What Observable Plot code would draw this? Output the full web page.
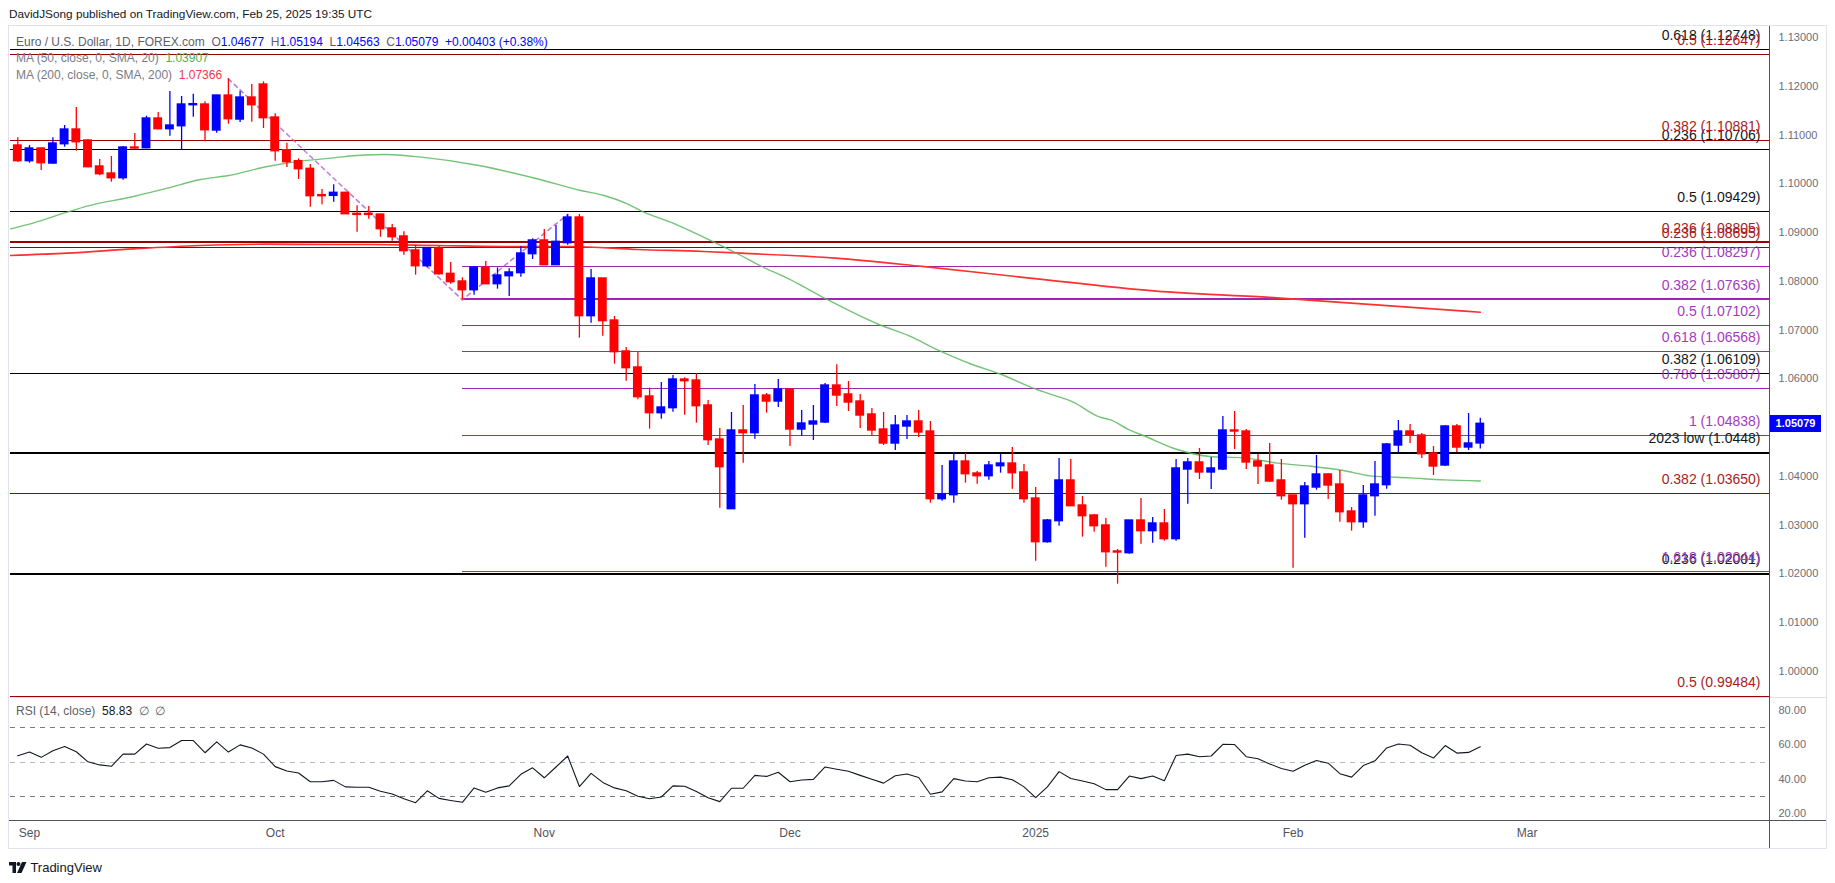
<!DOCTYPE html>
<html><head><meta charset="utf-8">
<script src="https://cdn.jsdelivr.net/npm/d3@7"></script>
<script src="https://cdn.jsdelivr.net/npm/@observablehq/plot@0.6"></script>
<style>
body{margin:0;background:#fff;font-family:"Liberation Sans",Arial,sans-serif;}
#wrap{position:relative;width:1835px;height:883px;overflow:hidden;background:#fff;}
.abs{position:absolute;white-space:pre;}
</style></head><body><div id="wrap"></div>
<script>
// ---------- DATA ----------
const opens = [1.10785,1.10464,1.10724,1.10416,1.10812,1.11113,1.10888,1.10355,1.10211,1.10115,
1.10744,1.10730,1.11339,1.11120,1.11181,1.11612,1.11626,1.11093,1.11810,1.11318,
1.11769,1.12036,1.11359,1.10689,1.10464,1.10307,1.09767,1.09753,1.09815,1.09384,
1.09384,1.09370,1.09084,1.08920,1.08633,1.08311,1.08681,1.08154,1.07997,1.07819,
1.08284,1.07942,1.08106,1.08168,1.08558,1.08838,1.08332,1.08783,1.09309,1.07286,
1.08059,1.07197,1.06562,1.06234,1.05639,1.05297,1.05400,1.05987,1.05967,1.05455,
1.04757,1.03329,1.04942,1.04887,1.05659,1.05536,1.05782,1.04962,1.05065,1.05106,
1.05864,1.05680,1.05536,1.05270,1.04962,1.04675,1.05024,1.05126,1.04921,1.03534,
1.03616,1.04306,1.04060,1.04005,1.04210,1.04265,1.04081,1.03547,1.02652,1.03083,
1.03917,1.03404,1.03199,1.02994,1.02461,1.02426,1.03096,1.02878,1.03035,1.02714,
1.04142,1.04286,1.04081,1.04142,1.04942,1.04921,1.04306,1.04224,1.03917,1.03609,
1.03431,1.03773,1.04040,1.03834,1.03281,1.03062,1.03595,1.03821,1.04634,1.04921,
1.04839,1.04470,1.04224,1.05024,1.04593,1.04677];
const highs = [1.10942,1.10785,1.10737,1.10942,1.11195,1.11564,1.10908,1.10498,1.10560,1.10765,
1.11031,1.11387,1.11462,1.11892,1.11790,1.11838,1.11680,1.11815,1.12152,1.11892,
1.12036,1.12091,1.11434,1.10833,1.10512,1.10395,1.09883,1.09979,1.09825,1.09548,
1.09534,1.09370,1.09166,1.09015,1.08735,1.08681,1.08715,1.08387,1.08072,1.08305,
1.08407,1.08277,1.08257,1.08715,1.08872,1.09063,1.09145,1.09371,1.09371,1.08243,
1.08059,1.07279,1.06644,1.06541,1.05810,1.05926,1.06070,1.06022,1.06104,1.05557,
1.04983,1.05311,1.05455,1.05885,1.05700,1.05987,1.05782,1.05352,1.05454,1.05905,
1.06290,1.05946,1.05680,1.05393,1.05311,1.05249,1.05249,1.05352,1.05126,1.04224,
1.04491,1.04470,1.04101,1.04306,1.04450,1.04593,1.04245,1.03773,1.03117,1.04368,
1.04347,1.03588,1.03219,1.03137,1.02502,1.03096,1.03547,1.03158,1.03322,1.04347,
1.04368,1.04573,1.04388,1.05229,1.05331,1.04962,1.04450,1.04675,1.04347,1.03609,
1.03875,1.04429,1.04060,1.04122,1.03363,1.03814,1.04306,1.04675,1.05147,1.05065,
1.04880,1.04614,1.05044,1.05065,1.05290,1.05194];
const lows = [1.10443,1.10423,1.10273,1.10402,1.10751,1.10669,1.10330,1.10163,1.10033,1.10074,
1.10710,1.10720,1.11110,1.10976,1.10696,1.11366,1.10860,1.11038,1.11223,1.11257,
1.11264,1.11134,1.10464,1.10334,1.10088,1.09521,1.09568,1.09623,1.09370,1.09008,
1.09275,1.08905,1.08824,1.08537,1.08127,1.08277,1.08127,1.07942,1.07621,1.07717,
1.07942,1.07840,1.07689,1.08086,1.08448,1.08332,1.08332,1.08742,1.06835,1.07143,
1.06876,1.06302,1.05953,1.05571,1.04969,1.05174,1.05318,1.05256,1.05092,1.04634,
1.03349,1.03329,1.04272,1.04764,1.05297,1.05413,1.04614,1.04825,1.04737,1.05085,
1.05434,1.05331,1.04983,1.04839,1.04634,1.04532,1.04757,1.04798,1.03452,1.03493,
1.03452,1.03862,1.03841,1.03923,1.04067,1.03739,1.03452,1.02262,1.02632,1.02980,
1.03390,1.02755,1.02857,1.02139,1.01791,1.02406,1.02611,1.02632,1.02673,1.02673,
1.03431,1.03937,1.03732,1.04122,1.04552,1.04142,1.03834,1.03875,1.03513,1.02119,
1.02734,1.03718,1.03527,1.03062,1.02878,1.02939,1.03185,1.03739,1.04491,1.04675,
1.04368,1.04019,1.04204,1.04491,1.04532,1.04563];
const closes = [1.10464,1.10724,1.10423,1.10826,1.11113,1.10853,1.10341,1.10197,1.10115,1.10744,
1.10724,1.11339,1.11120,1.11195,1.11626,1.11633,1.11099,1.11810,1.11325,1.11769,
1.11612,1.11346,1.10669,1.10443,1.10300,1.09746,1.09746,1.09815,1.09377,1.09363,
1.09363,1.09070,1.08906,1.08619,1.08311,1.08681,1.08147,1.07983,1.07819,1.08284,
1.07942,1.08120,1.08182,1.08571,1.08838,1.08332,1.08810,1.09309,1.07286,1.08059,
1.07184,1.06548,1.06220,1.05625,1.05297,1.05413,1.05987,1.05953,1.05441,1.04744,
1.04190,1.04942,1.04887,1.05659,1.05536,1.05782,1.04962,1.05085,1.05126,1.05864,
1.05659,1.05516,1.05249,1.04942,1.04675,1.05044,1.05126,1.04901,1.03534,1.03636,
1.04306,1.04046,1.04005,1.04224,1.04265,1.04067,1.03534,1.02652,1.03096,1.03917,
1.03390,1.03185,1.02980,1.02447,1.02440,1.03096,1.02878,1.03035,1.02714,1.04163,
1.04286,1.04081,1.04163,1.04942,1.04921,1.04286,1.04204,1.03896,1.03595,1.03431,
1.03793,1.04040,1.03814,1.03267,1.03062,1.03609,1.03834,1.04655,1.04921,1.04839,
1.04456,1.04204,1.05024,1.04593,1.04676,1.05079];

const rsiValues = [53.6,55.8,52.7,56.6,59.0,56.0,50.1,48.3,47.5,54.6,
54.6,60.5,58.0,58.4,62.5,62.5,55.4,61.7,55.8,60.0,
58.2,54.6,47.3,44.8,43.6,38.5,38.5,39.3,35.5,35.3,
35.3,33.0,31.4,28.6,26.3,33.2,28.8,27.6,26.5,34.9,
32.4,34.9,36.1,42.8,46.6,40.8,47.1,53.5,35.7,43.4,
38.1,34.9,33.2,30.0,28.6,29.6,36.1,35.9,32.8,29.2,
26.9,34.7,34.7,42.2,41.6,44.0,38.5,39.5,39.9,47.1,
45.8,44.6,42.2,39.9,37.7,42.0,43.0,41.0,31.2,32.6,
40.3,38.9,38.5,40.8,41.2,39.7,35.5,29.2,35.5,44.4,
40.4,38.9,37.3,33.9,33.9,41.8,40.3,41.8,39.1,53.8,
54.6,53.1,53.5,60.3,60.2,53.1,51.9,48.9,46.2,44.6,
48.1,50.9,49.3,43.2,41.2,47.9,50.7,58.2,60.5,59.8,
55.4,52.3,59.6,55.2,55.6,58.83];

// moving averages: bar index -> value
const ma50Idx = [-0.62,1.37,4.22,5.93,9.89,12.79,15.62,18.01,21.34,24.16,26.98,29.29,31.5,34.5,39.4,44.3,48.1,50.1,52.1,53.5,55.8,57.7,59.5,61.8,63.4,65.9,68.9,73.6,76.1,78.9,81.4,83.9,87.1,88.0,90.2,92.5,93.4,95.1,96.2,99.1,101.9,104.8,107.7,110.5,113.3,115.6,119.0,121.9,125];
const ma50Val = [1.09076,1.09200,1.09418,1.09541,1.09739,1.09910,1.10088,1.10170,1.10354,1.10464,1.10532,1.10587,1.10601,1.10546,1.10375,1.10109,1.09863,1.09760,1.09590,1.09419,1.09214,1.09009,1.08804,1.08530,1.08325,1.08052,1.07662,1.07115,1.06890,1.06562,1.06310,1.06105,1.05782,1.05707,1.05523,1.05215,1.05160,1.04942,1.04839,1.04552,1.04409,1.04381,1.04272,1.04210,1.04122,1.04012,1.03971,1.03930,1.03907];
const ma200Idx = [-0.62,4.2,9.9,15.6,21.3,27.0,30.1,35.9,41.5,47.2,53.0,58.6,61.8,69.9,77.3,86.3,97.3,106.7,114.9,125];
const ma200Val = [1.08530,1.08577,1.08666,1.08735,1.08762,1.08755,1.08756,1.08735,1.08715,1.08715,1.08653,1.08612,1.08577,1.08475,1.08305,1.08073,1.07798,1.07675,1.07539,1.07366];

const blackFibPrices = [1.12748,1.10706,1.09429,1.06109,1.0448,1.02001];
const blackFibLabels = ["0.618 (1.12748)","0.236 (1.10706)","0.5 (1.09429)","0.382 (1.06109)","2023 low (1.0448)","0.236 (1.02001)"];
const redFibPrices = [1.12647,1.10881,1.08805,1.08695,1.03650,0.99484];
const redFibLabels = ["0.5 (1.12647)","0.382 (1.10881)","0.236 (1.08805)","0.236 (1.08695)","0.382 (1.03650)","0.5 (0.99484)"];
const purpleFibPrices = [1.08297,1.07636,1.07102,1.06568,1.05807,1.04838,1.02044];
const purpleFibLabels = ["0.236 (1.08297)","0.382 (1.07636)","0.5 (1.07102)","0.618 (1.06568)","0.786 (1.05807)","1 (1.04838)","1.618 (1.02044)"];
const purpleFibStart = 38;           // bar index of the Oct 23 low
const trendIdx = [18, 38, 47];       // Sep 25 high, Oct 23 low, Nov 5 high

// 1.05 is hidden behind the last-price tag in the reference
const priceTicks = [1.00,1.01,1.02,1.03,1.04,1.06,1.07,1.08,1.09,1.10,1.11,1.12,1.13];
const rsiTicks = [20,40,60,80];
const rsiBands = [70,50,30];
const monthLabels = ["Sep","Oct","Nov","Dec","2025","Feb","Mar"];
const monthIdx = [1,22,45,66,87,109,129];

const headerText = "DavidJSong published on TradingView.com, Feb 25, 2025 19:35 UTC";
const symbolText = "Euro / U.S. Dollar, 1D, FOREX.com";
const changeText = "+0.00403 (+0.38%)";

// ---------- BUILD ----------
const wrap = document.getElementById("wrap");
function div(css, html){const d=document.createElement("div");d.className="abs";d.style.cssText=css;if(html!=null)d.innerHTML=html;wrap.appendChild(d);return d;}

const FONT = "'Liberation Sans', Arial, sans-serif";
const RED="#ff0000", BLUE="#0000ff";
const N = opens.length;
const candles = d3.range(N).map(i => ({i, o:opens[i], h:highs[i], l:lows[i], c:closes[i]}));
const col = d => d.c >= d.o ? BLUE : RED;
const xDomain = [-0.624, 149.72];

div("left:8px;top:25px;width:1817px;height:822px;border:1px solid #e0e3eb;");
div(`left:9px;top:6px;font-size:11.8px;line-height:16px;color:#131722;font-family:${FONT}`, headerText);

const ma50 = ma50Idx.map((x,k)=>({x, y:ma50Val[k]}));
const ma200 = ma200Idx.map((x,k)=>({x, y:ma200Val[k]}));
const trend = trendIdx.map((x,k)=>({x, y: k===1 ? lows[x] : highs[x]}));

const fibText = (prices, labels, fill) => Plot.text(prices, {
  y: d=>d, text: (d,i)=>labels[i], frameAnchor:"right", textAnchor:"end",
  lineAnchor:"middle", dx:-9, dy:-14, fill, fontSize:14, fontFamily:FONT
});

const price = Plot.plot({
  width:1816, height:670, marginLeft:0, marginRight:57, marginTop:0, marginBottom:0,
  style:{background:"transparent", color:"#6a6d78", fontFamily:FONT, fontSize:"11px"},
  x:{domain:xDomain, axis:null},
  y:{domain:[0.994669,1.13205], axis:null},
  marks:[
    Plot.axisY(priceTicks, {anchor:"right", tickSize:0, tickPadding:9, tickFormat:d=>d.toFixed(5), label:null, fontSize:11}),
    Plot.ruleY(blackFibPrices, {y:d=>d, stroke:"#000000", strokeWidth:1.2, shapeRendering:"crispEdges"}),
    Plot.ruleY(redFibPrices, {y:d=>d, stroke:"#990000", strokeWidth:1.2, shapeRendering:"crispEdges"}),
    Plot.ruleY(purpleFibPrices, {y:d=>d, x1:()=>purpleFibStart, x2:()=>xDomain[1], stroke:"#9c27b0", strokeWidth:1.2, shapeRendering:"crispEdges"}),
    Plot.line(ma200, {x:"x", y:"y", stroke:"#ff3030", strokeWidth:1.7, curve:"monotone-x", clip:true}),
    Plot.line(ma50, {x:"x", y:"y", stroke:"#5cb85f", strokeWidth:1.4, strokeOpacity:0.85, curve:"monotone-x", clip:true}),
    Plot.line(trend, {x:"x", y:"y", stroke:"#b25ccc", strokeWidth:1.6, strokeOpacity:0.8, strokeDasharray:"4,4"}),
    Plot.ruleX(candles, {x:"i", y1:"l", y2:"h", stroke:col, strokeWidth:1.3}),
    Plot.rect(candles, {x1:d=>d.i-0.38, x2:d=>d.i+0.38, y1:"o", y2:"c", fill:col, insetTop:-0.7, insetBottom:-0.7}),
    fibText(blackFibPrices, blackFibLabels, "#131722"),
    fibText(redFibPrices, redFibLabels, "#a81c1c"),
    fibText(purpleFibPrices, purpleFibLabels, "#a23bbd")
  ]
});
const pBox = div("left:10px;top:27px;width:1816px;height:670px;");
pBox.appendChild(price);

const rsiChart = Plot.plot({
  width:1816, height:150, marginLeft:0, marginRight:57, marginTop:0, marginBottom:28,
  style:{background:"transparent", color:"#6a6d78", fontFamily:FONT, fontSize:"11px"},
  x:{domain:xDomain, axis:null},
  y:{domain:[15.9,87.02], axis:null},
  marks:[
    Plot.axisY(rsiTicks, {anchor:"right", tickSize:0, tickPadding:9, tickFormat:d=>d.toFixed(2), label:null, fontSize:11}),
    Plot.ruleY(rsiBands, {y:d=>d, stroke:d=>d===50?"#b8bbc3":"#787b86", strokeDasharray:"5,5", strokeWidth:1, shapeRendering:"crispEdges"}),
    Plot.line(rsiValues, {x:(d,i)=>i, y:d=>d, stroke:"#131722", strokeWidth:1.1}),
    Plot.text(monthLabels, {x:(d,i)=>monthIdx[i], text:d=>d, frameAnchor:"bottom", lineAnchor:"middle", dy:13, fill:"#50535e", fontSize:12, fontWeight:d=>d==="2025"?"bold":"normal", fontFamily:FONT})
  ]
});
const rBox = div("left:10px;top:698px;width:1816px;height:150px;");
rBox.appendChild(rsiChart);

// panel separators and axis lines
div("left:10px;top:697px;width:1816px;height:1px;background:#e0e3eb;");
div("left:9px;top:820px;width:1817px;height:1px;background:#50535e;");
div("left:1769px;top:26px;width:1px;height:822px;background:#50535e;");

// legends
const last = N-1;
const g = "#5d606b";
const v = s => `<span style="color:${BLUE}">${s}</span>`;
div(`left:16px;top:34px;font-size:12px;line-height:16px;color:${g};font-family:${FONT}`,
  `${symbolText}  O${v(opens[last].toFixed(5))}  H${v(highs[last].toFixed(5))}  L${v(lows[last].toFixed(5))}  C${v(closes[last].toFixed(5))}  ${v(changeText)}`);
div(`left:16px;top:50px;font-size:12px;line-height:16px;color:#787b86;font-family:${FONT}`,
  `MA (50, close, 0, SMA, 20)  <span style="color:#4caf50">${ma50Val[ma50Val.length-1].toFixed(5)}</span>`);
div(`left:16px;top:67px;font-size:12px;line-height:16px;color:#787b86;font-family:${FONT}`,
  `MA (200, close, 0, SMA, 200)  <span style="color:#f23645">${ma200Val[ma200Val.length-1].toFixed(5)}</span>`);
div(`left:16px;top:703px;font-size:12px;line-height:16px;color:#5d606b;font-family:${FONT}`,
  `RSI (14, close)  <span style="color:#131722">${rsiValues[last].toFixed(2)}</span>  ∅  ∅`);

// last price tag
const yS = price.scale("y");
const ty = 27 + yS.apply(closes[last]);
div(`left:1770px;top:${ty-8.5}px;width:51px;height:17px;background:${BLUE};color:#fff;font-size:11px;line-height:17px;text-align:center;font-weight:bold;font-family:${FONT}`, closes[last].toFixed(5));

// footer logo
div(`left:9px;top:860px;font-size:13px;line-height:16px;color:#131722;font-family:${FONT}`,
  `<svg width="18" height="11" viewBox="0 0 18 11" style="vertical-align:-1px"><path d="M0 0h7v11H3.5V3.5H0z" fill="#131722"/><circle cx="9.5" cy="2" r="2" fill="#131722"/><path d="M13 0h4.5L12.5 11H8z" fill="#131722"/></svg> TradingView`);
</script></body></html>
